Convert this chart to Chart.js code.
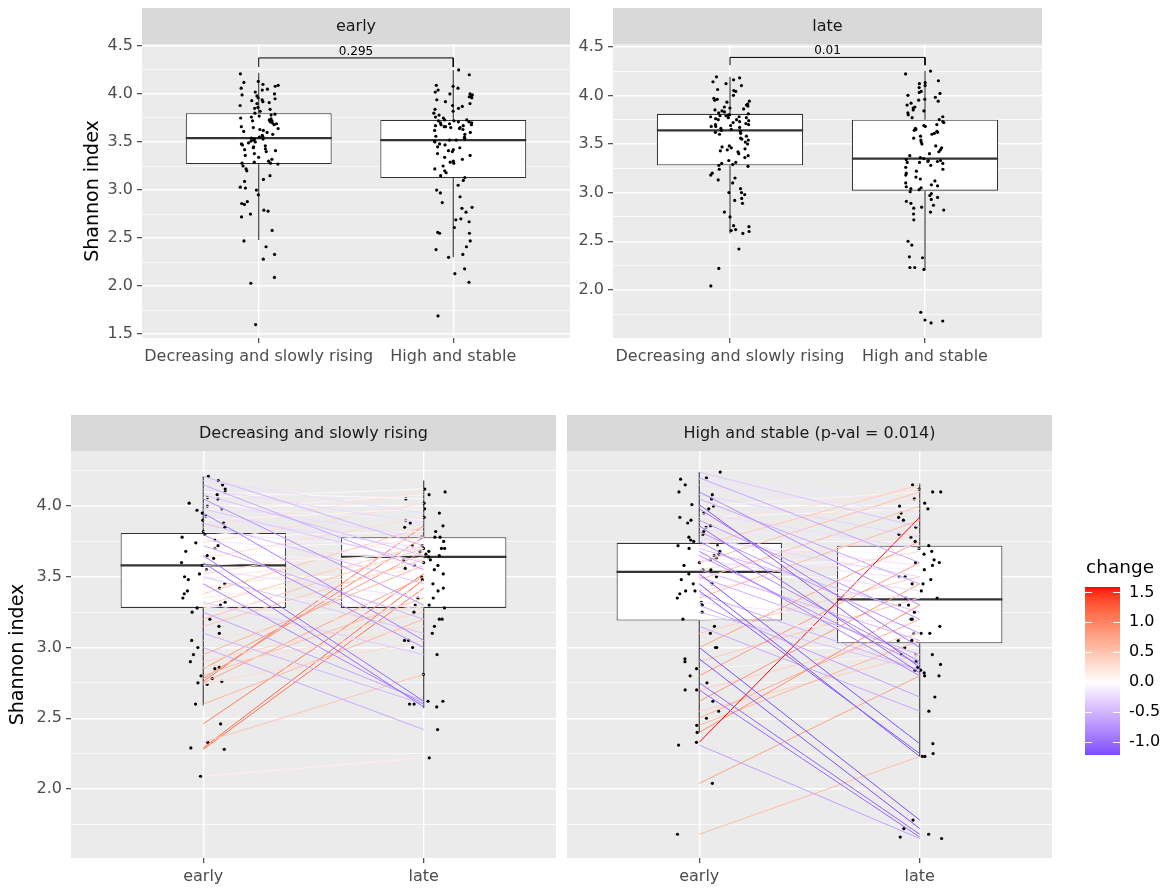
<!DOCTYPE html>
<html><head><meta charset="utf-8">
<script src="https://cdn.jsdelivr.net/npm/chart.js"></script>
<style>
html,body{margin:0;padding:0;background:#fff;}
#wrap{position:relative;width:1169px;height:891px;overflow:hidden;background:#fff;}
canvas{position:absolute;}
</style></head>
<body><div id="wrap">
<canvas id="c1"></canvas><canvas id="c2"></canvas><canvas id="c3"></canvas><canvas id="c4"></canvas><canvas id="c5"></canvas>
</div>
<script>
// ---------------- DATA ----------------
const groups = ['Decreasing and slowly rising', 'High and stable'];
const times = ['early', 'late'];
const stripTop = ['early', 'late'];
const stripBottom = ['Decreasing and slowly rising', 'High and stable (p-val = 0.014)'];
const pValues = ['0.295', '0.01'];
const bracketY = [4.375, 4.39];
const bracketTipY = [4.28, 4.31];
const yTitle = 'Shannon index';
const legendTitle = 'change';

// top row: all samples (Shannon index)
const earlyDec = [1.60,2.03,2.09,2.28,2.33,2.41,2.47,2.58,2.72,2.75,2.78,2.79,2.85,2.86,2.88,2.95,3.00,3.02,3.03,3.09,3.11,3.15,3.20,3.22,3.25,
 3.27,3.28,3.28,3.29,3.30,3.32,3.34,3.36,3.38,3.40,3.41,3.42,3.43,3.44,3.45,3.46,3.47,3.48,3.49,3.50,3.51,3.52,3.53,3.53,3.54,
 3.55,3.56,3.57,3.58,3.60,3.61,3.62,3.63,3.64,3.65,3.66,3.68,3.69,3.70,3.71,3.72,3.72,3.73,3.74,3.75,3.76,3.77,3.78,3.79,3.80,
 3.82,3.84,3.85,3.86,3.88,3.90,3.91,3.92,3.93,3.94,3.95,3.96,3.98,3.99,4.00,4.02,4.04,4.05,4.06,4.08,4.09,4.10,4.12,4.13,4.21];
const earlyHigh = [1.69,2.04,2.13,2.18,2.30,2.33,2.38,2.41,2.47,2.55,2.55,2.56,2.61,2.67,2.69,2.70,2.77,2.81,2.82,2.87,2.93,2.97,3.00,3.05,3.10,
 3.13,3.15,3.18,3.20,3.22,3.25,3.28,3.29,3.30,3.32,3.34,3.36,3.38,3.40,3.41,3.42,3.44,3.45,3.47,3.48,3.50,3.51,3.52,3.52,3.53,
 3.54,3.55,3.56,3.58,3.60,3.62,3.63,3.64,3.65,3.65,3.66,3.66,3.67,3.67,3.68,3.68,3.69,3.70,3.70,3.71,3.71,3.72,3.72,3.73,3.73,
 3.75,3.76,3.78,3.80,3.82,3.84,3.85,3.87,3.88,3.90,3.92,3.94,3.96,3.97,3.98,3.99,4.00,4.00,4.02,4.04,4.06,4.08,4.09,4.20,4.25];
const lateDec = [2.04,2.22,2.42,2.58,2.60,2.61,2.62,2.65,2.66,2.75,2.80,2.89,2.92,2.94,2.98,3.00,3.00,3.04,3.10,3.13,3.15,3.18,3.20,3.24,3.27,
 3.28,3.29,3.30,3.31,3.33,3.36,3.38,3.40,3.42,3.43,3.44,3.45,3.46,3.47,3.48,3.50,3.52,3.54,3.55,3.56,3.58,3.60,3.61,3.62,3.63,
 3.64,3.65,3.66,3.67,3.68,3.68,3.69,3.70,3.70,3.71,3.72,3.73,3.74,3.75,3.75,3.76,3.77,3.77,3.78,3.78,3.79,3.79,3.80,3.80,3.81,
 3.82,3.83,3.84,3.85,3.86,3.87,3.88,3.89,3.90,3.91,3.93,3.94,3.95,3.96,3.97,4.00,4.04,4.05,4.06,4.10,4.12,4.14,4.16,4.18,4.19];
const lateHigh = [1.66,1.68,1.69,1.77,2.21,2.23,2.23,2.33,2.34,2.46,2.50,2.72,2.78,2.80,2.82,2.84,2.85,2.87,2.89,2.91,2.93,2.95,2.97,2.99,3.01,
 3.03,3.04,3.05,3.06,3.07,3.08,3.10,3.12,3.14,3.16,3.18,3.20,3.22,3.24,3.26,3.28,3.30,3.31,3.31,3.32,3.32,3.33,3.33,3.34,3.35,
 3.36,3.38,3.40,3.42,3.44,3.46,3.48,3.50,3.52,3.54,3.56,3.58,3.60,3.61,3.62,3.63,3.64,3.65,3.66,3.68,3.69,3.70,3.72,3.73,3.75,
 3.77,3.78,3.80,3.82,3.84,3.85,3.87,3.88,3.90,3.92,3.94,3.95,3.96,3.98,4.00,4.02,4.03,4.04,4.08,4.10,4.12,4.13,4.15,4.22,4.25];
// box stats [lower whisker, Q1, median, Q3, upper whisker]
const boxEarlyDec  = [2.48, 3.27, 3.54, 3.80, 4.22];
const boxEarlyHigh = [2.30, 3.125, 3.52, 3.73, 4.25];
const boxLateDec   = [2.58, 3.28, 3.64, 3.81, 4.19];
const boxLateHigh  = [2.21, 3.02, 3.35, 3.75, 4.25];

// bottom row: paired subjects (early -> late)
const decEarly = [4.21,4.18,4.15,4.12,4.10,4.08,4.05,4.02,4.00,3.98,3.95,3.93,3.90,3.88,3.85,3.82,3.80,3.78,3.76,3.74,3.72,3.70,3.68,3.65,3.63,3.60,3.58,3.55,3.52,3.50,3.48,3.45,3.42,3.40,3.38,3.35,3.32,3.30,3.28,3.25,3.20,3.15,3.10,3.05,3.00,2.95,2.90,2.86,2.85,2.80,2.78,2.76,2.75,2.74,2.60,2.46,2.33,2.29,2.28,2.09,4.06,3.97];
const decLate  = [3.72,3.95,3.55,3.88,4.05,3.65,3.30,3.78,3.90,3.60,3.05,3.70,3.98,3.45,4.10,3.68,3.00,3.82,3.62,4.02,3.20,3.75,3.58,2.62,3.92,2.58,3.66,3.35,3.78,3.10,3.70,2.60,3.64,3.28,3.85,3.56,2.95,3.72,3.40,2.62,3.70,3.62,2.60,3.30,2.42,3.58,3.25,3.15,3.68,3.35,3.78,3.86,3.50,3.05,3.20,3.52,2.81,3.48,3.42,2.22,4.12,4.08];
const highEarly = [4.01,3.86,3.68,3.52,3.40,3.00,2.92,2.75,2.70,2.31,3.15,3.30,4.24,4.20,4.15,4.10,4.05,3.98,3.95,3.90,3.82,3.78,3.75,3.70,3.65,3.62,3.45,3.55,3.50,3.45,3.38,3.32,3.25,3.20,2.33,1.68,2.04,2.40,2.45,2.50,2.55,2.62,2.70,2.80,2.90,3.00,3.10,3.35,3.48,3.60,3.72,3.80,3.88,3.92,4.00,3.40,3.55,2.85,4.19,4.08,3.58,3.63,3.66,3.72,3.76,3.85];
const highLate  = [2.86,2.82,2.80,2.32,2.25,1.78,1.72,1.68,1.66,1.65,2.55,2.65,3.85,3.60,3.95,3.30,3.45,3.00,3.70,3.20,3.10,3.50,2.90,3.25,2.88,3.40,2.23,3.05,2.95,3.35,2.84,3.15,2.84,3.10,3.92,2.23,2.80,3.30,3.05,3.20,2.95,3.45,3.10,3.60,3.35,3.75,3.50,3.90,4.00,4.10,4.15,4.05,4.12,3.98,4.10,3.68,3.80,2.95,4.02,3.78,3.62,3.55,3.48,3.66,3.58,3.72];
const pairBoxDecEarly  = [2.59, 3.28, 3.58, 3.81, 4.21];
const pairBoxDecLate   = [2.57, 3.28, 3.64, 3.78, 4.18];
const pairBoxHighEarly = [2.40, 3.19, 3.535, 3.74, 4.24];
const pairBoxHighLate  = [2.23, 3.03, 3.34, 3.72, 4.16];

const yTicksTopLeft  = ['1.5','2.0','2.5','3.0','3.5','4.0','4.5'];
const yTicksTopRight = ['2.0','2.5','3.0','3.5','4.0','4.5'];
const yTicksBottom   = ['2.0','2.5','3.0','3.5','4.0'];
const legendTicks    = ['-1.0','-0.5','0.0','0.5','1.0','1.5'];

// ---------------- HELPERS ----------------
const FONT = "'DejaVu Sans', Verdana, sans-serif";
const TICK_SIZE = 16, TITLE_SIZE = 19;

function jit(i, seed) { const s = Math.sin((i + 1) * 12.9898 + seed * 78.233) * 43758.5453; return (s - Math.floor(s)) * 2 - 1; }

function s2l(c){c/=255;return c<=0.04045?c/12.92:Math.pow((c+0.055)/1.055,2.4);}
function l2s(c){c=c<=0.0031308?12.92*c:1.055*Math.pow(c,1/2.4)-0.055;return Math.round(Math.max(0,Math.min(1,c))*255);}
function rgb2lab(rgb){const r=s2l(rgb[0]),g=s2l(rgb[1]),b=s2l(rgb[2]);
  const X=(0.4124564*r+0.3575761*g+0.1804375*b)/0.95047,Y=(0.2126729*r+0.7151522*g+0.0721750*b),Z=(0.0193339*r+0.1191920*g+0.9503041*b)/1.08883;
  const f=t=>t>0.008856?Math.cbrt(t):(7.787*t+16/116);
  return [116*f(Y)-16,500*(f(X)-f(Y)),200*(f(Y)-f(Z))];}
function lab2rgb(lab){const fy=(lab[0]+16)/116,fx=fy+lab[1]/500,fz=fy-lab[2]/200;
  const fi=t=>t*t*t>0.008856?t*t*t:(t-16/116)/7.787;
  const X=fi(fx)*0.95047,Y=fi(fy),Z=fi(fz)*1.08883;
  return [l2s(3.2404542*X-1.5371385*Y-0.4985314*Z),l2s(-0.9692660*X+1.8760108*Y+0.0415560*Z),l2s(0.0556434*X-0.2040259*Y+1.0572252*Z)];}
const LAB_LOW = rgb2lab([0,0,255]), LAB_MID = rgb2lab([255,255,255]), LAB_HIGH = rgb2lab([255,0,0]);
const allChanges = decLate.map((l,i)=>l-decEarly[i]).concat(highLate.map((l,i)=>l-highEarly[i]));
const chLo = Math.min(...allChanges), chHi = Math.max(...allChanges);
const chM = Math.max(Math.abs(chLo), Math.abs(chHi));
function colorFor(v){
  const t = Math.max(-1, Math.min(1, v / chM));
  const end = t >= 0 ? LAB_HIGH : LAB_LOW, a = Math.abs(t);
  const lab = [0,1,2].map(k => LAB_MID[k] + (end[k]-LAB_MID[k])*a);
  const c = lab2rgb(lab);
  return `rgb(${c[0]},${c[1]},${c[2]})`;
}

const panelPlugin = {
  id: 'panelDeco',
  beforeDraw(chart, args, o) {
    const {ctx, chartArea: a} = chart;
    ctx.save();
    ctx.fillStyle = '#EBEBEB'; ctx.fillRect(a.left, a.top, a.right - a.left, a.bottom - a.top);
    ctx.fillStyle = '#D9D9D9'; ctx.fillRect(a.left, a.top - o.stripH, a.right - a.left, o.stripH);
    ctx.fillStyle = '#1A1A1A'; ctx.font = TICK_SIZE + 'px ' + FONT;
    ctx.textAlign = 'center'; ctx.textBaseline = 'middle';
    ctx.fillText(o.label, (a.left + a.right) / 2, a.top - o.stripH / 2 + 1);
    ctx.restore();
  },
  afterDatasetsDraw(chart, args, o) {
    if (!o.pText) return;
    const {ctx, scales} = chart;
    ctx.save();
    ctx.fillStyle = '#000'; ctx.font = '12px ' + FONT;
    ctx.textAlign = 'center'; ctx.textBaseline = 'alphabetic';
    ctx.fillText(o.pText, scales.x.getPixelForValue(1.5), scales.y.getPixelForValue(o.pY) - 3);
    ctx.restore();
  }
};

function buildPanel(cfg) {
  const cv = document.getElementById(cfg.id);
  cv.width = cfg.w; cv.height = cfg.h;
  cv.style.left = cfg.x + 'px'; cv.style.top = cfg.y + 'px';
  const A = cfg.area;
  const majors = cfg.yLabels.map(Number);
  const step = majors[1] - majors[0];
  const minors = [];
  for (let k = -1; k < majors.length; k++) {
    const m = k < 0 ? majors[0] - step / 2 : majors[k] + step / 2;
    if (m > cfg.yMin && m < cfg.yMax) minors.push(m);
  }
  const yVals = majors.concat(minors).sort((p, q) => p - q);
  const isMajor = v => majors.some(m => Math.abs(m - v) < 1e-9);

  const ds = [];
  if (cfg.bracket) {
    const b = cfg.bracket;
    ds.push({type:'line', order:1, data:[{x:1,y:b.tip},{x:1,y:b.y},{x:2,y:b.y},{x:2,y:b.tip}],
      borderColor:'#000', borderWidth:1, pointRadius:0, fill:false, tension:0});
  }
  if (cfg.pairs) {
    const [E, L] = cfg.pairs;
    E.forEach((e, i) => {
      ds.push({type:'line', order:2, data:[{x:1,y:e},{x:2,y:L[i]}], borderColor: colorFor(L[i]-e),
        borderWidth:1, pointRadius:0, fill:false, tension:0});
    });
  }
  cfg.points.forEach(([vals, cat, seed]) => {
    ds.push({type:'scatter', order:3, data: vals.map((v, j) => ({x: cat + 0.1 * jit(j, seed), y: v})),
      pointRadius:1.6, pointBackgroundColor:'#000', pointBorderWidth:0, pointStyle:'circle'});
  });
  const med = [];
  cfg.boxes.forEach((s, i) => { med.push({x:i+1-0.375,y:s[2]},{x:i+1+0.375,y:s[2]},{x:i+1.5,y:null}); });
  ds.push({type:'line', order:4, data: med, borderColor:'#333', borderWidth:2.2, pointRadius:0, spanGaps:false, fill:false});
  const wh = [];
  cfg.boxes.forEach((s, i) => { wh.push({x:i+1,y:s[3]},{x:i+1,y:s[4]},{x:i+1,y:null},{x:i+1,y:s[1]},{x:i+1,y:s[0]},{x:i+1,y:null}); });
  ds.push({type:'line', order:5, data: wh, borderColor:'#333', borderWidth:1.1, pointRadius:0, spanGaps:false, fill:false});
  ds.push({type:'bar', order:6, data: cfg.boxes.map((s, i) => ({x:i+1, y:[s[1], s[3]]})),
    backgroundColor:'#fff', borderColor:'#333', borderWidth:1.1, borderSkipped:false,
    barPercentage:0.75, categoryPercentage:1, grouped:false});

  const tickFont = {family: FONT, size: TICK_SIZE};
  return new Chart(cv, {
    type: 'scatter',
    data: {datasets: ds},
    plugins: [panelPlugin],
    options: {
      responsive:false, animation:false, events:[],
      layout: {padding: {left:0, top:A.t, right:cfg.w - A.r, bottom:0}},
      plugins: {legend:{display:false}, tooltip:{enabled:false},
        panelDeco: {stripH: cfg.stripH, label: cfg.strip, pText: cfg.bracket ? cfg.bracket.text : null, pY: cfg.bracket ? cfg.bracket.y : 0}},
      scales: {
        x: {type:'linear', min:0.4, max:2.6, offset:false,
          afterBuildTicks: s => { s.ticks = [{value:1},{value:2}]; },
          afterFit: s => { s.height = cfg.h - A.b; },
          grid: {color:'#fff', lineWidth:1.4, drawTicks:true, tickLength:5, tickColor:'#333', tickWidth:1.1, offset:false},
          border: {display:false},
          ticks: {autoSkip:false, maxRotation:0, padding:4, color:'#4D4D4D', font:tickFont, callback:(v, i) => cfg.xLabels[i]}},
        y: {type:'linear', min:cfg.yMin, max:cfg.yMax,
          afterBuildTicks: s => { s.ticks = yVals.map(v => ({value:v})); },
          afterFit: s => { s.width = A.l; },
          grid: {color:'#fff', lineWidth: c => (c.tick && isMajor(c.tick.value)) ? 1.4 : 0.7,
            drawTicks: cfg.showY, tickLength:5, tickWidth:1.1,
            tickColor: c => (c.tick && isMajor(c.tick.value)) ? '#333' : 'rgba(0,0,0,0)'},
          border: {display:false},
          ticks: {display: cfg.showY, autoSkip:false, padding:4, color:'#4D4D4D', font:tickFont,
            callback: v => { const i = majors.findIndex(m => Math.abs(m - v) < 1e-9); return i >= 0 ? cfg.yLabels[i] : ''; }},
          title: cfg.yTitleX ? {display:true, text:yTitle, color:'#000', font:{family:FONT, size:TITLE_SIZE},
            padding:{top: cfg.yTitleX - TITLE_SIZE * 0.6, bottom:0}} : {display:false}}
      }
    }
  });
}

buildPanel({id:'c1', x:0, y:0, w:575, h:380, area:{l:142, t:44, r:570, b:338},
  yMin:1.46, yMax:4.52, yLabels:yTicksTopLeft, showY:true, yTitleX:93, xLabels:groups,
  strip:stripTop[0], stripH:36, boxes:[boxEarlyDec, boxEarlyHigh],
  points:[[earlyDec,1,3],[earlyHigh,2,7]], bracket:{y:bracketY[0], tip:bracketTipY[0], text:pValues[0]}});
buildPanel({id:'c2', x:575, y:0, w:475, h:380, area:{l:38, t:44, r:467, b:338},
  yMin:1.505, yMax:4.528, yLabels:yTicksTopRight, showY:true, yTitleX:0, xLabels:groups,
  strip:stripTop[1], stripH:36, boxes:[boxLateDec, boxLateHigh],
  points:[[lateDec,1,11],[lateHigh,2,13]], bracket:{y:bracketY[1], tip:bracketTipY[1], text:pValues[1]}});
buildPanel({id:'c3', x:0, y:400, w:561, h:491, area:{l:71, t:51, r:556, b:458},
  yMin:1.512, yMax:4.389, yLabels:yTicksBottom, showY:true, yTitleX:18, xLabels:times,
  strip:stripBottom[0], stripH:36, boxes:[pairBoxDecEarly, pairBoxDecLate],
  points:[[decEarly,1,17],[decLate,2,19]], pairs:[decEarly, decLate]});
buildPanel({id:'c4', x:561, y:400, w:500, h:491, area:{l:6, t:51, r:491, b:458},
  yMin:1.512, yMax:4.389, yLabels:yTicksBottom, showY:false, yTitleX:0, xLabels:times,
  strip:stripBottom[1], stripH:36, boxes:[pairBoxHighEarly, pairBoxHighLate],
  points:[[highEarly,1,23],[highLate,2,29]], pairs:[highEarly, highLate]});

// ---------------- LEGEND (colourbar) ----------------
(function(){
  const cv = document.getElementById('c5');
  cv.width = 108; cv.height = 240; cv.style.left = '1061px'; cv.style.top = '540px';
  const legVals = legendTicks.map(Number);
  const legendPlugin = {
    id: 'legDeco',
    afterDatasetsDraw(chart) {
      const {ctx, chartArea:a, scales} = chart;
      ctx.save();
      ctx.strokeStyle = '#fff'; ctx.lineWidth = 1;
      legVals.forEach(v => {
        const py = Math.round(scales.y.getPixelForValue(v)) + 0.5;
        ctx.beginPath(); ctx.moveTo(a.left, py); ctx.lineTo(a.left + 7, py);
        ctx.moveTo(a.right - 7, py); ctx.lineTo(a.right, py); ctx.stroke();
      });
      ctx.fillStyle = '#000'; ctx.font = '18.5px ' + FONT;
      ctx.textAlign = 'left'; ctx.textBaseline = 'middle';
      ctx.fillText(legendTitle, a.left + 1, 28);
      ctx.restore();
    }
  };
  new Chart(cv, {
    type: 'bar',
    data: {labels:[''], datasets:[{data:[[chLo, chHi]], barPercentage:1, categoryPercentage:1, borderWidth:0,
      backgroundColor: c => {
        const ch = c.chart, a = ch.chartArea;
        if (!a) return '#fff';
        const g = ch.ctx.createLinearGradient(0, a.bottom, 0, a.top);
        for (let k = 0; k <= 60; k++) { g.addColorStop(k / 60, colorFor(chLo + (chHi - chLo) * k / 60)); }
        return g;
      }}]},
    plugins: [legendPlugin],
    options: {
      responsive:false, animation:false, events:[],
      layout: {padding:{left:24, top:47, right:0, bottom:25}},
      plugins: {legend:{display:false}, tooltip:{enabled:false}},
      scales: {
        x: {display:false},
        y: {position:'right', min:chLo, max:chHi,
          afterBuildTicks: s => { s.ticks = legVals.map(v => ({value:v})); },
          afterFit: s => { s.width = 49; },
          grid: {display:false, drawTicks:false}, border:{display:false},
          ticks: {padding:9, color:'#000', font:{family:FONT, size:TICK_SIZE},
            callback: v => { const i = legVals.findIndex(m => Math.abs(m - v) < 1e-9); return i >= 0 ? legendTicks[i] : ''; }}}
      }
    }
  });
})();
</script>
</body></html>
